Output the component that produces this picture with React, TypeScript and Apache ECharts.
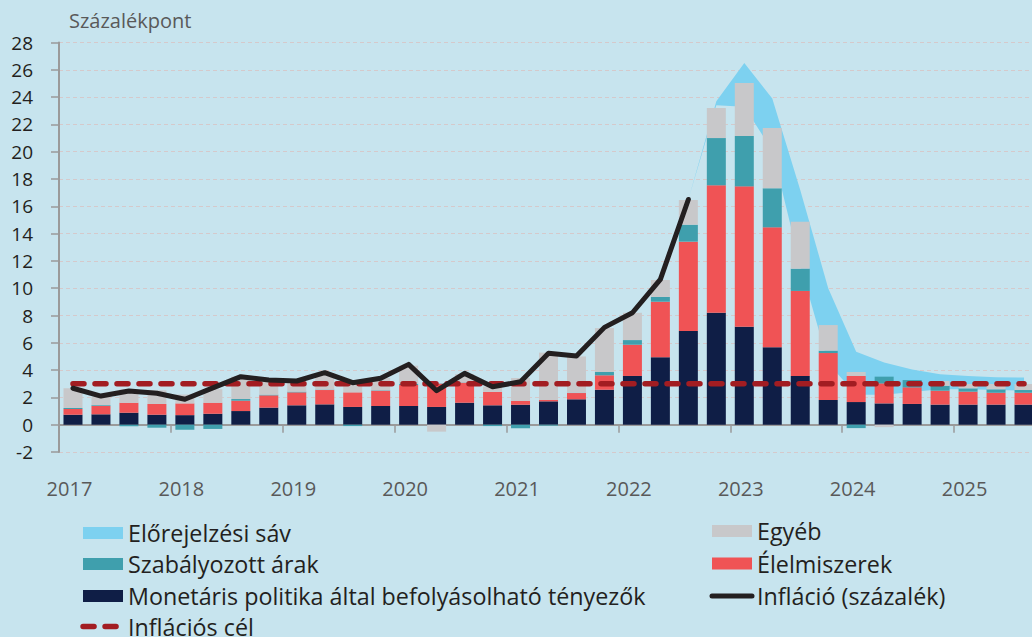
import React, { useEffect, useRef } from "react";
import * as echarts from "echarts";

const quarters = [
  "2017Q1", "2017Q2", "2017Q3", "2017Q4",
  "2018Q1", "2018Q2", "2018Q3", "2018Q4",
  "2019Q1", "2019Q2", "2019Q3", "2019Q4",
  "2020Q1", "2020Q2", "2020Q3", "2020Q4",
  "2021Q1", "2021Q2", "2021Q3", "2021Q4",
  "2022Q1", "2022Q2", "2022Q3", "2022Q4",
  "2023Q1", "2023Q2", "2023Q3", "2023Q4",
  "2024Q1", "2024Q2", "2024Q3", "2024Q4",
  "2025Q1", "2025Q2", "2025Q3",
];

// Monetáris politika által befolyásolható tényezők
const monetary = [0.73, 0.76, 0.88, 0.73, 0.7, 0.8, 1.0, 1.25, 1.42, 1.49, 1.3, 1.37, 1.37, 1.3, 1.61, 1.42, 1.47, 1.71, 1.86, 2.56, 3.57, 4.94, 6.86, 8.2, 7.18, 5.67, 3.57, 1.81, 1.66, 1.56, 1.52, 1.47, 1.47, 1.47, 1.47];
// Élelmiszerek
const food = [0.42, 0.61, 0.73, 0.79, 0.86, 0.81, 0.76, 0.9, 0.95, 1.05, 1.07, 1.12, 1.54, 1.7, 1.47, 0.98, 0.27, 0.1, 0.46, 1.06, 2.29, 4.07, 6.55, 9.34, 10.28, 8.79, 6.23, 3.44, 1.91, 1.47, 1.22, 1.02, 0.95, 0.87, 0.87];
// Szabályozott árak
const regulated = [0.07, 0.06, -0.12, -0.22, -0.37, -0.31, 0.12, 0.05, 0.05, 0.03, -0.1, 0.03, 0.09, 0.02, 0.02, -0.1, -0.26, -0.07, 0.02, 0.24, 0.34, 0.35, 1.24, 3.46, 3.69, 2.86, 1.63, 0.17, -0.25, 0.49, 0.53, 0.35, 0.24, 0.25, 0.2];
// Egyéb
const other = [1.45, 0.63, 0.96, 1.0, 0.65, 0.99, 1.64, 1.0, 0.8, 1.2, 0.8, 0.9, 1.32, -0.51, 0.6, 0.4, 1.68, 3.47, 2.66, 3.22, 2.0, 1.24, 1.81, 2.2, 3.88, 4.42, 3.44, 1.88, 0.29, -0.18, 0, 0.36, 0.32, 0.39, 0.44];
// Infláció (százalék), 2017Q1 – 2022Q3
const inflation = [2.67, 2.1, 2.47, 2.3, 1.86, 2.7, 3.52, 3.27, 3.2, 3.81, 3.08, 3.4, 4.42, 2.49, 3.76, 2.78, 3.15, 5.23, 5.03, 7.13, 8.2, 10.65, 16.5];
// Inflációs cél
const targetValue = 3;
// Előrejelzési sáv, from 2022Q3
const forecastStart = "2022Q3";
const bandLower = [16.5, 23.4, 23.3, 20.1, 11.7, 4.5, 2.2, 2.2, 2.4, 2.6, 2.6, 2.55, 2.5];
const bandUpper = [16.5, 23.7, 26.5, 23.9, 17.2, 10.0, 5.35, 4.55, 4.05, 3.7, 3.57, 3.47, 3.45];

const yMin = -2;
const yMax = 28;
const yStep = 2;

const FONT = "'Open Sans', 'DejaVu Sans', sans-serif";

const COLORS = {
  band: "#7DD1F0",
  monetary: "#0F1E46",
  food: "#F05355",
  regulated: "#3F9FAD",
  other: "#C8C8CA",
  inflation: "#231F20",
  target: "#A21D22",
};

function buildOption() {
  const n = quarters.length;
  const start = quarters.indexOf(forecastStart);
  const lowerFull: (number | null)[] = [];
  const widthFull: (number | null)[] = [];
  const inflFull: (number | null)[] = [];
  const targetFull: number[] = [];
  for (let i = 0; i < n; i++) {
    const k = i - start;
    if (k >= 0 && k < bandLower.length) {
      lowerFull.push(bandLower[k]);
      widthFull.push(+(bandUpper[k] - bandLower[k]).toFixed(3));
    } else {
      lowerFull.push(null);
      widthFull.push(null);
    }
    inflFull.push(i < inflation.length ? inflation[i] : null);
    targetFull.push(targetValue);
  }

  const isYear = (i: number) => i % 4 === 0;

  const mkLegend = (left: number, centerY: number, item: any, lh = 24) => ({
    orient: "horizontal",
    left,
    top: centerY - lh / 2,
    padding: 0,
    itemWidth: 40,
    itemHeight: 12,
    selectedMode: false,
    textStyle: { fontFamily: FONT, fontSize: 23.3, color: "#231F20", lineHeight: lh },
    data: [item],
  });

  return {
    animation: false,
    backgroundColor: "#C7E4EE",
    title: {
      text: "Százalékpont",
      left: 69,
      top: 10,
      padding: 0,
      textStyle: { fontFamily: FONT, fontSize: 20, fontWeight: "normal", color: "#595959" },
    },
    grid: {
      left: 59,
      right: -6,
      top: 42.5,
      bottom: 185,
      containLabel: false,
      outerBoundsMode: "none",
    },
    legend: [
      mkLegend(83, 533, { name: "Előrejelzési sáv", icon: "rect", itemStyle: { color: COLORS.band } }),
      mkLegend(83, 564, { name: "Szabályozott árak", icon: "rect" }),
      mkLegend(83, 596, { name: "Monetáris politika által befolyásolható tényezők", icon: "rect" }),
      mkLegend(80.3, 626.5, {
        name: "Inflációs cél",
        itemStyle: { opacity: 0 },
        lineStyle: { width: 5.5, type: [11, 11], cap: "round", color: COLORS.target },
      }),
      mkLegend(712, 531, { name: "Egyéb", icon: "rect" }),
      mkLegend(712, 563.5, { name: "Élelmiszerek", icon: "rect" }),
      mkLegend(709.5, 596, {
        name: "Infláció (százalék)",
        itemStyle: { opacity: 0 },
        lineStyle: { width: 5, type: "solid", cap: "round", color: COLORS.inflation },
      }),
    ],
    xAxis: {
      type: "category",
      data: quarters,
      boundaryGap: true,
      axisLine: { show: true, onZero: true, lineStyle: { color: "#9A9A9A", width: 2 } },
      axisTick: { show: true, length: 8, interval: (i: number) => isYear(i), lineStyle: { color: "#9A9A9A", width: 1.5 } },
      axisLabel: {
        interval: (i: number) => isYear(i),
        formatter: (v: string) => v.slice(0, 4),
        margin: 26,
        padding: [0, 7, 0, 0],
        fontFamily: FONT,
        fontSize: 20,
        color: "#595959",
      },
      splitLine: { show: false },
    },
    yAxis: {
      type: "value",
      min: yMin,
      max: yMax,
      interval: yStep,
      axisLine: { show: true, lineStyle: { color: "#9A9A9A", width: 2 } },
      axisTick: { show: true, length: 8, lineStyle: { color: "#9A9A9A", width: 1.5 } },
      axisLabel: { margin: 26, fontFamily: FONT, fontSize: 19, color: "#231F20" },
      splitLine: { show: true, lineStyle: { color: "#D5C9CB", width: 1, type: [4, 3] } },
    },
    series: [
      {
        name: "band-lower",
        type: "line",
        stack: "band",
        data: lowerFull,
        symbol: "none",
        silent: true,
        lineStyle: { width: 0, opacity: 0 },
        z: 1,
      },
      {
        name: "Előrejelzési sáv",
        type: "line",
        stack: "band",
        data: widthFull,
        symbol: "none",
        silent: true,
        itemStyle: { color: COLORS.band },
        lineStyle: { width: 0, opacity: 0 },
        areaStyle: { color: COLORS.band, opacity: 1 },
        z: 1,
      },
      {
        name: "Monetáris politika által befolyásolható tényezők",
        type: "bar",
        stack: "comp",
        data: monetary,
        barWidth: 19,
        itemStyle: { color: COLORS.monetary },
        z: 2,
      },
      {
        name: "Élelmiszerek",
        type: "bar",
        stack: "comp",
        data: food,
        barWidth: 19,
        itemStyle: { color: COLORS.food },
        z: 2,
      },
      {
        name: "Szabályozott árak",
        type: "bar",
        stack: "comp",
        data: regulated,
        barWidth: 19,
        itemStyle: { color: COLORS.regulated },
        z: 2,
      },
      {
        name: "Egyéb",
        type: "bar",
        stack: "comp",
        data: other,
        barWidth: 19,
        itemStyle: { color: COLORS.other },
        z: 2,
      },
      {
        name: "Infláció (százalék)",
        type: "line",
        data: inflFull,
        symbol: "none",
        itemStyle: { color: COLORS.inflation },
        lineStyle: { color: COLORS.inflation, width: 5, cap: "round", join: "round" },
        z: 5,
      },
      {
        name: "Inflációs cél",
        type: "line",
        data: targetFull,
        symbol: "none",
        itemStyle: { color: COLORS.target },
        lineStyle: { color: COLORS.target, width: 5.5, type: [11, 11], cap: "round" },
        z: 4,
      },
    ],
  };
}

export default function App() {
  const ref = useRef<HTMLDivElement>(null);
  useEffect(() => {
    if (!ref.current) return;
    const chart = echarts.init(ref.current, null, { renderer: "svg" });
    chart.setOption(buildOption() as any);
    return () => chart.dispose();
  }, []);
  return (
    <div
      ref={ref}
      style={{ position: "absolute", left: 0, top: 0, width: 1032, height: 637 }}
    />
  );
}
